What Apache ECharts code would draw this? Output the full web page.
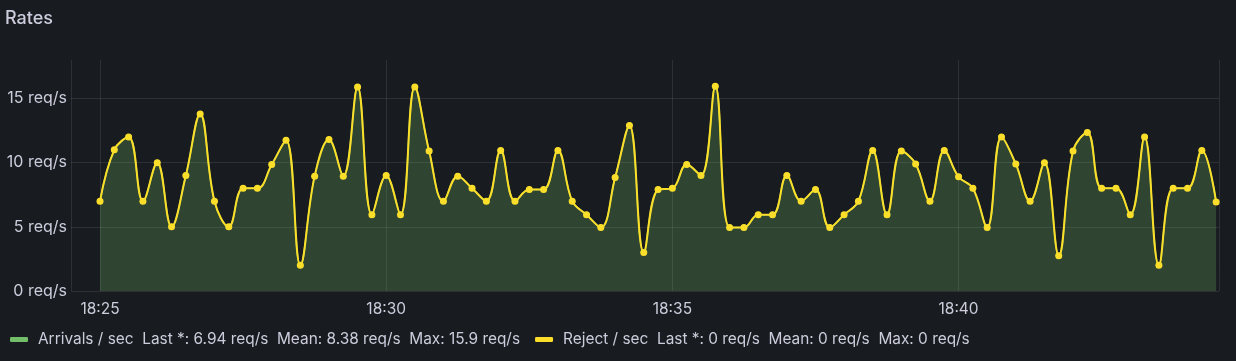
<!DOCTYPE html>
<html>
<head>
<meta charset="utf-8">
<script src="https://cdn.jsdelivr.net/npm/echarts@6/dist/echarts.min.js"></script>
<style>
html,body{margin:0;padding:0;background:#181b1f;}
#chart{width:1236px;height:361px;}
</style>
</head>
<body>
<div id="chart"></div>
<script>
// ---- data ----
const day = [2024, 0, 1];
const startClock = [18, 25, 0];   // first sample 18:25:00
const stepSeconds = 15;
const arrivals = [
  7, 11, 12, 7, 10, 5, 9, 13.8, 7, 5,
  8, 8, 9.85, 11.75, 2, 8.95, 11.8, 8.95, 15.9, 5.95,
  9, 5.95, 15.9, 10.9, 7, 8.95, 8, 7, 10.95, 7,
  7.9, 7.9, 10.95, 7, 5.95, 4.95, 8.85, 12.9, 3, 7.9,
  8, 9.85, 9, 15.95, 4.95, 4.95, 5.95, 5.95, 9, 7,
  7.9, 4.95, 5.95, 7, 10.95, 5.95, 10.9, 9.9, 7, 10.95,
  8.9, 8, 4.95, 12, 9.9, 7, 10, 2.75, 10.9, 12.35,
  8, 8, 5.95, 12, 2, 8, 8, 10.95, 6.94
];
const reject = arrivals.map(() => 0);
const seriesNames = ['Arrivals / sec', 'Reject / sec'];
const legendStats = {
  'Arrivals / sec': 'Last *: 6.94 req/s  Mean: 8.38 req/s  Max: 15.9 req/s',
  'Reject / sec': 'Last *: 0 req/s  Mean: 0 req/s  Max: 0 req/s'
};
const yTicks = [0, 5, 10, 15];
const xRangeClock = [[18, 24, 29.6], [18, 44, 33]];

// ---- build ----
const at = c => new Date(day[0], day[1], day[2], c[0], c[1], 0).getTime() + c[2] * 1000;
const t0 = at(startClock);
const times = arrivals.map((_, i) => t0 + i * stepSeconds * 1000);

const chart = echarts.init(document.getElementById('chart'), null, {renderer: 'canvas'});
const font = 'Inter, "Noto Sans", sans-serif';
const textColor = '#ccccdc';
const gridColor = 'rgba(204,204,220,0.12)';

chart.setOption({
  backgroundColor: '#181b1f',
  animation: false,
  title: {
    text: 'Rates', left: 0, top: 5,
    textStyle: {color: textColor, fontFamily: font, fontSize: 18, fontWeight: 500}
  },
  legend: {
    left: 10, top: 332, padding: 0,
    itemWidth: 18, itemHeight: 5, itemGap: 15,
    icon: 'roundRect',
    data: seriesNames,
    formatter: name => name + '  ' + legendStats[name],
    textStyle: {color: textColor, fontFamily: font, fontSize: 15.4, padding: [0, 0, 0, 5]}
  },
  grid: {left: 71, right: 17, top: 60, bottom: 70},
  xAxis: {
    type: 'time',
    min: at(xRangeClock[0]),
    max: at(xRangeClock[1]),
    splitNumber: 3,
    axisLine: {show: false},
    axisTick: {show: false},
    axisLabel: {
      color: textColor, fontFamily: font, fontSize: 15.5, margin: 10,
      showMinLabel: false, showMaxLabel: false,
      formatter: v => echarts.time.format(v, '{HH}:{mm}', false)
    },
    splitLine: {show: true, lineStyle: {color: gridColor, width: 1}}
  },
  yAxis: {
    type: 'value', min: 0, max: 18, interval: 5,
    axisLine: {show: false},
    axisTick: {show: false},
    axisLabel: {
      color: textColor, fontFamily: font, fontSize: 16, margin: 4,
      showMaxLabel: false,
      formatter: v => (yTicks.indexOf(v) >= 0 ? v + ' req/s' : '')
    },
    splitLine: {show: true, showMaxLine: false, lineStyle: {color: gridColor, width: 1}}
  },
  series: [
    {
      name: seriesNames[0], type: 'line', stack: 'total', smooth: 0.4,
      data: times.map((t, i) => [t, arrivals[i]]),
      color: '#73BF69',
      symbol: 'circle', symbolSize: 6, showSymbol: true,
      lineStyle: {width: 1.5, color: '#73BF69'},
      areaStyle: {color: '#73BF69', opacity: 0.26}
    },
    {
      name: seriesNames[1], type: 'line', stack: 'total', smooth: 0.4,
      data: times.map((t, i) => [t, reject[i]]),
      color: '#FADE2A',
      symbol: 'circle', symbolSize: 7, showSymbol: true,
      lineStyle: {width: 2, color: '#FADE2A'},
      z: 3
    }
  ]
});
</script>
</body>
</html>
